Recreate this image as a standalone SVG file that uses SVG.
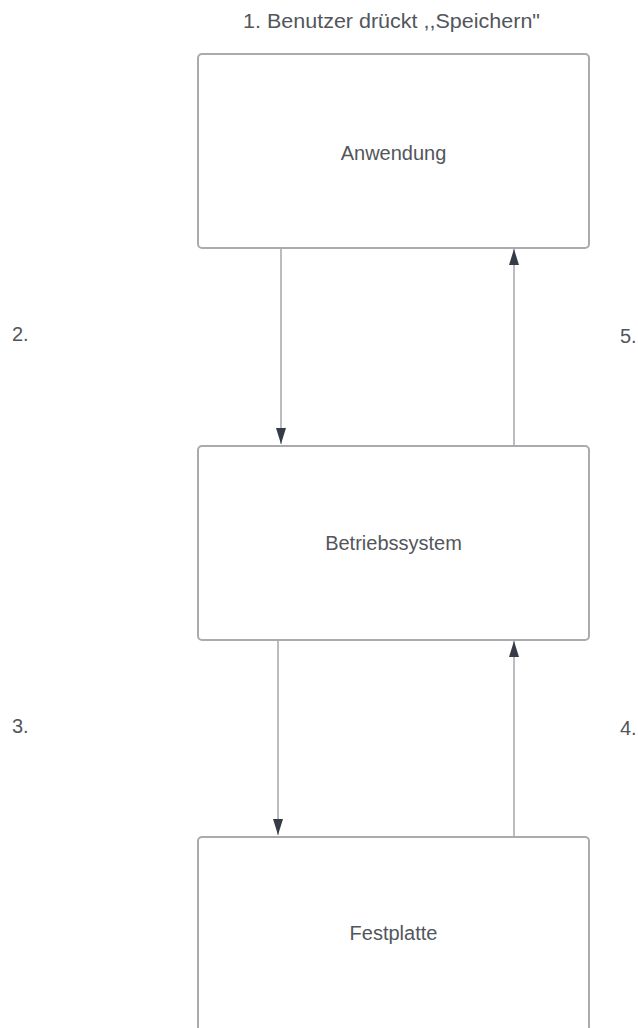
<svg xmlns="http://www.w3.org/2000/svg" width="638" height="1028" viewBox="0 0 638 1028">
  <defs>
    <style>
      .box { fill: #ffffff; stroke: #a9abaf; stroke-width: 2; }
      .lbl { font-family: "Liberation Sans", Arial, sans-serif; font-size: 20px; fill: #52565b; }
      .conn { stroke: #a3a6ab; stroke-width: 1.5; fill: none; }
    </style>
    <marker id="ah" viewBox="0 0 16 10" refX="16" refY="5" markerWidth="16" markerHeight="10" markerUnits="userSpaceOnUse" orient="auto">
      <path d="M0,0 L16,5 L0,10 Z" fill="#353c47"/>
    </marker>
  </defs>
  <rect width="638" height="1028" fill="#ffffff"/>
  <text class="lbl" x="391.5" y="28" font-size="18" text-anchor="middle" textLength="297" lengthAdjust="spacingAndGlyphs">1. Benutzer drückt ,,Speichern"</text>
  <g id="connectors">
    <line class="conn" x1="281" y1="249" x2="281" y2="444" marker-end="url(#ah)"/>
    <line class="conn" x1="514" y1="445" x2="514" y2="249" marker-end="url(#ah)"/>
    <line class="conn" x1="278" y1="641" x2="278" y2="835" marker-end="url(#ah)"/>
    <line class="conn" x1="514" y1="836" x2="514" y2="641" marker-end="url(#ah)"/>
  </g>
  <g id="anwendung">
    <rect class="box" x="198" y="54" width="391" height="194" rx="4"/>
    <text class="lbl" x="393.5" y="160" text-anchor="middle">Anwendung</text>
  </g>
  <g id="betriebssystem">
    <rect class="box" x="198" y="446" width="391" height="194" rx="4"/>
    <text class="lbl" x="393.5" y="550" text-anchor="middle">Betriebssystem</text>
  </g>
  <g id="festplatte">
    <rect class="box" x="198" y="837" width="391" height="194" rx="4"/>
    <text class="lbl" x="393.5" y="940" text-anchor="middle">Festplatte</text>
  </g>
  <g id="labels">
    <text class="lbl" x="12" y="341">2.</text>
    <text class="lbl" x="620" y="343">5.</text>
    <text class="lbl" x="12" y="733">3.</text>
    <text class="lbl" x="620" y="735">4.</text>
  </g>
</svg>
